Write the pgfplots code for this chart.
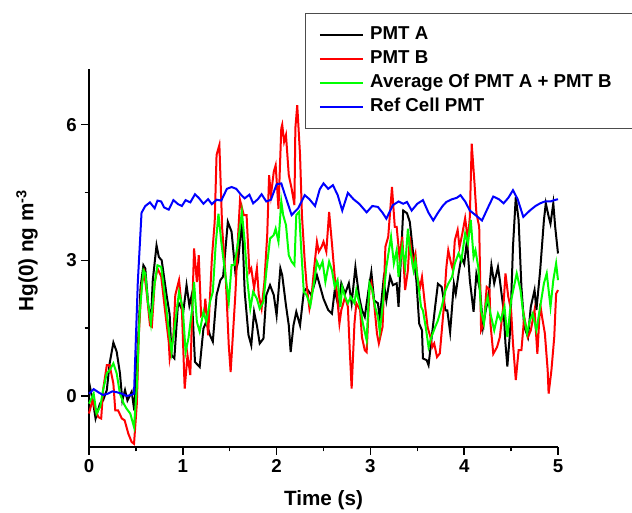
\documentclass[border=0pt]{standalone}
\usepackage{fontspec}
\setmainfont{Liberation Sans}
\usepackage{pgfplots}
\pgfplotsset{compat=1.18}
\begin{document}
\begin{tikzpicture}
\useasboundingbox (0,0) rectangle (474pt,384pt);
\begin{axis}[
  at={(66.75pt,48.75pt)}, anchor=south west,
  scale only axis, width=351.75pt, height=283.5pt,
  xmin=0, xmax=5, ymin=-1.13, ymax=7.23,
  axis x line*=bottom, axis y line*=left,
  axis line style={line width=1.1pt,-},
  xtick={0,1,2,3,4,5}, ytick={0,3,6},
  minor xtick={0.5,1.5,2.5,3.5,4.5}, minor ytick={1.5,4.5},
  tick align=outside, major tick length=5.7pt, minor tick length=3.2pt,
  every tick/.style={line width=1.1pt,black},
  /pgf/number format/assume math mode=true,
  tick label style={font=\fontsize{14}{16}\selectfont\bfseries},
  xlabel={Time (s)}, ylabel={Hg(0) ng m\textsuperscript{-3}},
  label style={font=\fontsize{15.5}{18}\selectfont\bfseries},
  xlabel style={at={(axis description cs:0.5,-0.14)}, anchor=center},
  ylabel style={at={(axis description cs:-0.132,0.52)}, anchor=center},
  clip=false,
  legend image code/.code={\draw[#1] (0pt,0pt) -- (32pt,0pt);},
  legend style={at={(axis description cs:0.4606,1.148)}, anchor=north west,
    draw=black!70, line width=0.8pt, fill=white,
    font=\fontsize{14}{16}\selectfont\bfseries,
    inner xsep=10pt, inner ysep=7pt, row sep=0pt, column sep=3pt,
    cells={anchor=west},
    nodes={inner ysep=2.25pt, inner xsep=2pt, text height=10.5pt, text depth=3pt}},
]
\addplot[black, line width=1.5pt] coordinates {
(0.00,0.31)(0.046,-0.17)(0.07,-0.5)(0.117,-0.17)(0.15,-0.1)(0.19,0.13)(0.22,0.72)(0.26,1.18)(0.295,0.98)(0.33,0.5)(0.355,-0.1)(0.384,0.13)(0.41,-0.1)(0.455,0.09)(0.483,-0.32)(0.525,1.3)(0.55,2.41)(0.58,2.89)(0.60,2.82)(0.63,2.04)(0.66,1.64)(0.68,2.56)(0.72,3.33)(0.745,3.07)(0.775,3.0)(0.83,2.19)(0.86,1.8)(0.88,0.9)(0.91,0.83)(0.95,2.08)(1.005,1.86)(1.04,2.45)(1.07,2.0)(1.095,2.23)(1.13,0.75)(1.18,0.64)(1.22,1.49)(1.25,1.64)(1.29,1.34)(1.32,1.2)(1.36,2.23)(1.40,2.56)(1.43,2.64)(1.48,3.85)(1.52,3.63)(1.56,2.74)(1.59,2.97)(1.63,3.92)(1.66,2.3)(1.70,1.35)(1.73,1.12)(1.76,1.86)(1.79,1.56)(1.82,1.16)(1.86,1.27)(1.89,2.23)(1.93,2.45)(1.97,2.23)(2.00,1.78)(2.04,2.82)(2.06,2.67)(2.10,2.0)(2.13,1.56)(2.15,0.97)(2.18,1.56)(2.21,1.86)(2.25,1.56)(2.29,2.3)(2.32,2.38)(2.37,2.23)(2.43,2.67)(2.46,2.45)(2.50,2.15)(2.53,2.0)(2.55,1.9)(2.59,1.82)(2.62,2.34)(2.66,1.97)(2.69,2.49)(2.73,2.26)(2.77,2.49)(2.80,2.05)(2.84,2.85)(2.88,2.19)(2.91,1.9)(2.94,1.75)(2.98,2.34)(3.01,2.74)(3.04,2.11)(3.08,2.05)(3.10,1.71)(3.14,2.56)(3.17,2.11)(3.21,2.64)(3.24,2.45)(3.28,2.49)(3.30,1.97)(3.35,4.1)(3.39,4.04)(3.42,3.85)(3.46,3.07)(3.49,2.56)(3.52,1.6)(3.55,1.45)(3.56,0.83)(3.60,0.79)(3.62,0.68)(3.65,1.23)(3.69,1.97)(3.72,2.48)(3.76,2.41)(3.80,1.89)(3.82,1.89)(3.85,1.41)(3.89,2.48)(3.91,2.26)(3.94,2.7)(3.97,3.07)(4.00,2.92)(4.03,3.44)(4.06,2.56)(4.10,1.86)(4.13,2.7)(4.17,2.33)(4.20,1.52)(4.23,1.9)(4.26,2.19)(4.29,2.89)(4.32,2.49)(4.36,2.85)(4.38,2.56)(4.42,1.9)(4.44,1.16)(4.46,0.65)(4.49,1.45)(4.52,3.3)(4.55,4.4)(4.58,3.89)(4.61,2.41)(4.64,1.53)(4.68,1.3)(4.71,1.97)(4.75,2.34)(4.77,1.9)(4.81,2.78)(4.85,3.89)(4.87,4.26)(4.90,3.97)(4.92,3.81)(4.95,4.26)(4.97,3.74)(5.00,3.15)
};
\addlegendentry{PMT A}
\addplot[red, line width=1.5pt] coordinates {
(0.0,-0.39)(0.036,-0.1)(0.07,-0.32)(0.10,-0.47)(0.13,-0.5)(0.15,0.13)(0.19,0.68)(0.22,0.68)(0.26,0.27)(0.28,-0.32)(0.31,-0.32)(0.35,-0.5)(0.38,-0.54)(0.42,-0.84)(0.455,-1.02)(0.48,-1.06)(0.51,-0.17)(0.53,1.3)(0.56,2.45)(0.59,2.71)(0.62,2.19)(0.65,1.56)(0.67,1.53)(0.70,2.49)(0.73,2.82)(0.77,2.64)(0.81,1.9)(0.85,1.2)(0.86,0.83)(0.90,1.34)(0.92,2.23)(0.96,2.56)(0.99,1.93)(1.02,0.16)(1.05,0.9)(1.08,0.46)(1.12,3.26)(1.15,2.52)(1.17,3.11)(1.195,1.78)(1.23,1.86)(1.24,2.15)(1.27,1.34)(1.31,3.04)(1.34,3.85)(1.36,5.33)(1.39,5.55)(1.42,3.7)(1.46,2.52)(1.49,1.12)(1.51,0.53)(1.56,2.23)(1.59,3.56)(1.61,4.33)(1.65,4.0)(1.68,4.0)(1.71,2.74)(1.73,2.82)(1.76,2.38)(1.79,2.82)(1.81,2.23)(1.84,1.93)(1.87,2.52)(1.90,3.56)(1.92,4.88)(1.94,4.44)(1.97,4.96)(1.99,5.1)(2.02,4.14)(2.05,5.92)(2.06,6.0)(2.08,5.62)(2.10,5.77)(2.13,4.88)(2.16,4.59)(2.19,4.22)(2.20,5.92)(2.22,6.43)(2.25,5.33)(2.27,4.0)(2.30,2.97)(2.32,2.45)(2.35,1.93)(2.37,2.15)(2.40,2.82)(2.43,3.41)(2.45,3.19)(2.48,3.3)(2.50,3.41)(2.53,3.19)(2.56,4.07)(2.59,3.37)(2.62,2.63)(2.64,2.34)(2.67,1.6)(2.69,1.9)(2.73,2.19)(2.76,1.97)(2.78,1.01)(2.80,0.16)(2.83,1.6)(2.85,2.05)(2.89,1.9)(2.91,1.3)(2.94,1.01)(2.96,0.97)(2.99,2.34)(3.01,2.49)(3.04,2.05)(3.07,1.38)(3.09,1.16)(3.13,1.53)(3.16,3.3)(3.19,3.52)(3.23,4.62)(3.26,3.74)(3.28,3.74)(3.31,3.07)(3.34,3.52)(3.37,2.34)(3.40,2.78)(3.42,3.52)(3.45,2.93)(3.48,3.15)(3.50,2.63)(3.53,2.41)(3.55,2.63)(3.58,2.04)(3.61,1.52)(3.64,1.3)(3.66,1.08)(3.68,1.16)(3.71,0.86)(3.74,0.94)(3.78,1.9)(3.81,2.85)(3.83,3.22)(3.86,2.93)(3.88,2.78)(3.90,3.44)(3.93,3.67)(3.95,3.29)(3.98,3.59)(4.01,3.93)(4.04,3.44)(4.06,3.96)(4.08,5.58)(4.11,4.7)(4.13,4.04)(4.16,3.74)(4.18,1.45)(4.21,1.6)(4.24,2.41)(4.27,2.35)(4.28,1.6)(4.31,0.93)(4.35,1.08)(4.38,1.3)(4.42,2.04)(4.44,2.71)(4.47,2.19)(4.50,1.9)(4.52,1.16)(4.55,0.35)(4.58,1.01)(4.61,1.01)(4.64,1.75)(4.68,1.3)(4.71,1.45)(4.75,1.9)(4.78,0.93)(4.81,2.04)(4.83,1.75)(4.86,1.38)(4.89,0.57)(4.90,0.05)(4.93,0.57)(4.96,1.3)(4.98,2.26)(5.00,2.34)
};
\addlegendentry{PMT B}
\addplot[green, line width=1.5pt] coordinates {
(0.0,-0.17)(0.05,0.05)(0.08,-0.39)(0.12,-0.24)(0.15,0.13)(0.19,0.5)(0.22,0.57)(0.26,0.72)(0.295,0.5)(0.33,0.05)(0.37,-0.17)(0.40,-0.28)(0.44,-0.39)(0.48,-0.69)(0.51,0.2)(0.54,1.82)(0.58,2.78)(0.60,2.71)(0.63,2.04)(0.66,1.6)(0.70,2.49)(0.73,2.89)(0.77,2.85)(0.81,2.2)(0.85,1.45)(0.88,0.97)(0.92,1.64)(0.96,2.3)(1.0,1.93)(1.03,0.97)(1.06,1.27)(1.10,1.93)(1.12,2.52)(1.15,1.64)(1.18,1.42)(1.22,1.86)(1.25,1.64)(1.29,2.08)(1.32,2.3)(1.35,3.33)(1.38,4.03)(1.41,3.41)(1.45,2.74)(1.49,2.08)(1.52,2.89)(1.55,2.89)(1.59,3.41)(1.63,4.07)(1.66,3.4)(1.69,2.52)(1.72,1.93)(1.75,2.3)(1.79,2.15)(1.82,1.93)(1.86,2.08)(1.89,2.74)(1.93,3.48)(1.97,3.56)(1.99,3.7)(2.02,3.41)(2.05,4.3)(2.07,4.0)(2.10,3.78)(2.13,3.11)(2.16,2.97)(2.19,2.89)(2.21,4.0)(2.24,4.07)(2.26,3.33)(2.29,2.3)(2.32,2.23)(2.36,2.0)(2.40,2.52)(2.43,2.97)(2.46,2.82)(2.49,2.97)(2.52,2.52)(2.56,2.97)(2.59,2.78)(2.62,2.41)(2.65,2.56)(2.68,1.97)(2.70,2.41)(2.73,2.19)(2.76,2.05)(2.79,2.19)(2.83,2.05)(2.85,2.34)(2.89,1.97)(2.92,1.6)(2.96,1.23)(2.99,2.49)(3.02,2.34)(3.05,1.97)(3.08,1.75)(3.10,1.42)(3.14,2.19)(3.17,2.85)(3.22,3.52)(3.25,2.93)(3.28,3.22)(3.30,2.63)(3.34,3.3)(3.37,2.85)(3.40,3.7)(3.42,3.29)(3.46,2.78)(3.48,3.0)(3.51,2.48)(3.54,1.97)(3.56,1.89)(3.59,1.52)(3.62,1.08)(3.65,1.3)(3.69,1.52)(3.72,1.67)(3.76,1.97)(3.80,2.33)(3.83,2.48)(3.87,2.63)(3.90,2.93)(3.94,3.15)(3.97,3.0)(4.01,3.59)(4.04,3.37)(4.07,3.89)(4.10,3.07)(4.12,3.22)(4.15,2.85)(4.18,1.89)(4.21,1.6)(4.23,2.0)(4.25,2.19)(4.28,1.82)(4.32,1.45)(4.36,1.82)(4.39,1.67)(4.43,1.97)(4.46,1.3)(4.50,2.11)(4.53,2.41)(4.56,2.71)(4.60,2.34)(4.63,1.82)(4.67,1.38)(4.70,1.67)(4.73,1.82)(4.77,1.45)(4.81,1.97)(4.85,2.49)(4.88,2.71)(4.92,1.97)(4.95,2.56)(4.98,2.93)(5.00,2.56)
};
\addlegendentry{Average Of PMT A + PMT B\hspace*{26pt}}
\addplot[blue, line width=1.5pt] coordinates {
(0.00,0.05)(0.05,0.15)(0.10,0.08)(0.15,0.02)(0.20,0.05)(0.25,0.10)(0.30,0.08)(0.35,0.05)(0.40,0.0)(0.45,0.02)(0.48,0.05)(0.52,2.5)(0.56,4.05)(0.60,4.2)(0.65,4.28)(0.70,4.15)(0.73,4.32)(0.77,4.3)(0.80,4.17)(0.85,4.12)(0.90,4.33)(0.95,4.24)(0.99,4.2)(1.03,4.33)(1.08,4.28)(1.13,4.46)(1.17,4.38)(1.22,4.25)(1.27,4.35)(1.31,4.24)(1.36,4.34)(1.41,4.32)(1.47,4.58)(1.52,4.62)(1.57,4.58)(1.62,4.45)(1.66,4.37)(1.71,4.45)(1.75,4.26)(1.80,4.35)(1.84,4.46)(1.89,4.3)(1.94,4.34)(2.00,4.68)(2.05,4.70)(2.09,4.44)(2.16,4.0)(2.23,4.15)(2.30,4.44)(2.35,4.35)(2.41,4.2)(2.46,4.57)(2.50,4.70)(2.55,4.58)(2.60,4.66)(2.65,4.45)(2.70,4.1)(2.76,4.49)(2.82,4.35)(2.88,4.25)(2.96,4.06)(3.02,4.2)(3.08,4.18)(3.13,4.05)(3.17,3.92)(3.24,4.22)(3.30,4.3)(3.35,4.25)(3.39,4.29)(3.44,4.1)(3.50,4.25)(3.56,4.33)(3.62,4.05)(3.67,3.88)(3.72,4.05)(3.77,4.2)(3.81,4.29)(3.87,4.35)(3.92,4.38)(3.96,4.44)(4.01,4.3)(4.06,4.1)(4.12,4.0)(4.19,3.88)(4.25,4.15)(4.31,4.41)(4.37,4.35)(4.42,4.26)(4.47,4.38)(4.52,4.55)(4.57,4.35)(4.63,3.96)(4.70,4.1)(4.76,4.2)(4.81,4.26)(4.86,4.3)(4.92,4.3)(4.96,4.33)(5.00,4.35)
};
\addlegendentry{Ref Cell PMT}
\end{axis}
\end{tikzpicture}
\end{document}
